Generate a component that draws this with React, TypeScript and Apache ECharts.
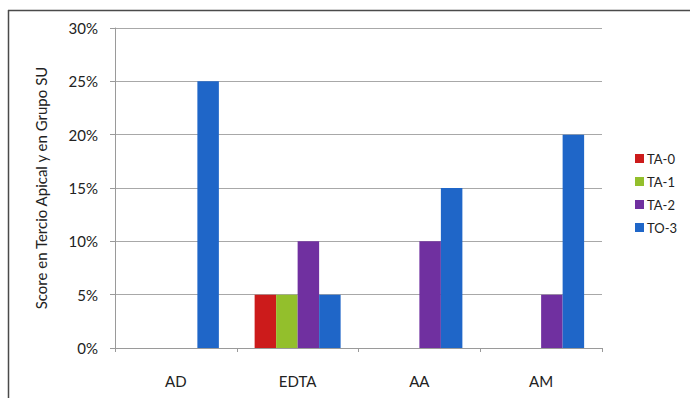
import React, { useEffect, useRef } from "react";
import * as echarts from "echarts";

const categories = ["AD", "EDTA", "AA", "AM"];
const seriesNames = ["TA-0", "TA-1", "TA-2", "TO-3"];
const ta0 = [0, 5, 0, 0];
const ta1 = [0, 5, 0, 0];
const ta2 = [0, 10, 10, 5];
const to3 = [25, 5, 15, 20];
const colors = ["#cc1b1b", "#93bf2c", "#7030a0", "#1f66c8"];
const yAxisTitle = "Score en Tercio Apical y en Grupo SU";

const FONT = "Lato, 'Liberation Sans', sans-serif";

export default function App() {
  const ref = useRef<HTMLDivElement>(null);

  useEffect(() => {
    if (!ref.current) return;
    const chart = echarts.init(ref.current, undefined, { renderer: "svg" });
    const values = [ta0, ta1, ta2, to3];
    chart.setOption({
      animation: false,
      backgroundColor: "#ffffff",
      textStyle: { fontFamily: FONT },
      grid: { left: 115, right: 88, top: 28, bottom: 50 },
      legend: {
        orient: "vertical",
        left: 630,
        top: 147,
        itemWidth: 9,
        itemHeight: 9,
        itemGap: 10,
        icon: "rect",
        data: seriesNames,
        textStyle: { fontSize: 13, color: "#222", fontFamily: FONT, padding: [0, 0, 0, -2] },
      },
      xAxis: {
        type: "category",
        data: categories,
        axisLine: { lineStyle: { color: "#9a9a9a", width: 1 } },
        axisTick: { show: true, length: 4, inside: false, lineStyle: { color: "#9a9a9a" } },
        axisLabel: { fontSize: 15, color: "#222", margin: 25, fontFamily: FONT },
      },
      yAxis: {
        type: "value",
        min: 0,
        max: 30,
        interval: 5,
        name: yAxisTitle,
        nameLocation: "middle",
        nameGap: 67,
        nameTextStyle: { fontSize: 15, color: "#222", fontFamily: FONT },
        axisLine: { show: true, lineStyle: { color: "#9a9a9a" } },
        axisTick: { show: true, length: 5, lineStyle: { color: "#9a9a9a" } },
        axisLabel: {
          fontSize: 15,
          color: "#222",
          margin: 17,
          fontFamily: FONT,
          formatter: (v: number) => `${v}%`,
        },
        splitLine: { show: true, lineStyle: { color: "#a8a8a8", width: 1 } },
      },
      series: seriesNames.map((name, i) => ({
        name,
        type: "bar",
        data: values[i],
        barWidth: 21.5,
        barGap: "0%",
        itemStyle: { color: colors[i] },
      })),
      graphic: [
        {
          type: "line",
          shape: { x1: 8, y1: 10.5, x2: 690, y2: 10.5 },
          style: { stroke: "#4a4a4a", lineWidth: 1.5 },
        },
        {
          type: "line",
          shape: { x1: 8.5, y1: 10, x2: 8.5, y2: 398 },
          style: { stroke: "#4a4a4a", lineWidth: 1.5 },
        },
      ],
    });
    return () => chart.dispose();
  }, []);

  return (
    <div
      ref={ref}
      style={{ position: "fixed", left: 0, top: 0, width: 690, height: 398 }}
    />
  );
}
